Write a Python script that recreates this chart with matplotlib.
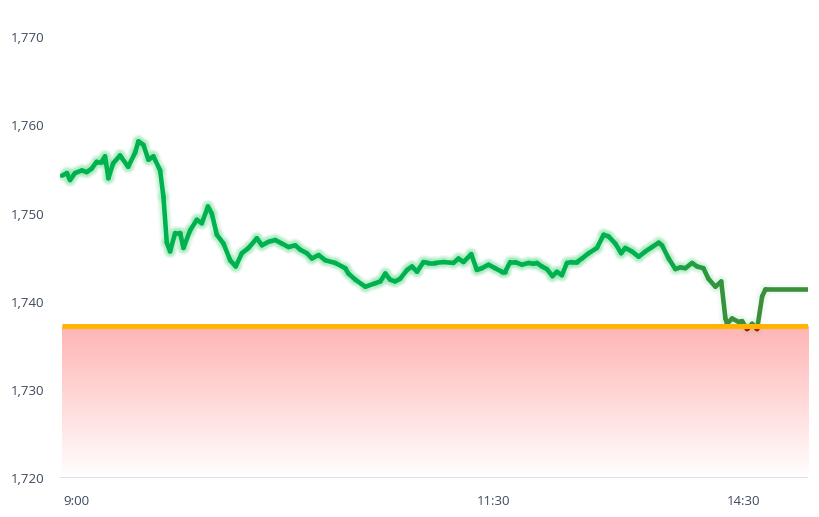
import numpy as np
import matplotlib
matplotlib.use('Agg')
from matplotlib import pyplot as plt
from matplotlib.collections import LineCollection
from matplotlib.colors import to_rgb
from matplotlib.patches import Rectangle

plt.rcParams['font.family'] = ['Open Sans', 'DejaVu Sans']

# trading minutes from 9:00 (lunch break removed) and index value
minutes = [-5.1, -3.3, -2.2, -0.4, 2.1, 3.8, 5.6, 7.4, 9.2, 10.4, 11.6, 13.3, 15.8, 18.7,
           21.2, 22.4, 24.2, 26.0, 27.8, 30.2, 31.4, 32.6, 33.8, 35.6, 37.4, 38.6, 41.0,
           43.4, 45.2, 47.4, 48.8, 50.6, 53.0, 55.4, 57.4, 59.6, 62.0, 65.0, 66.8, 69.2,
           71.6, 74.0, 76.4, 78.8, 80.6, 83.0, 84.8, 87.2, 89.6, 93.2, 96.8, 97.9, 100.4,
           104.0, 107.6, 109.4, 111.2, 112.9, 114.7, 116.5, 119.0, 120.8, 122.6, 124.9,
           126.7, 129.1, 132.1, 135.7, 137.5, 139.3, 142.1, 144.1, 145.9, 148.3, 150.7,
           153.1, 154.3, 156.1, 157.9, 160.3, 162.7, 164.5, 165.7, 167.5, 169.3, 171.3,
           172.9, 174.7, 176.5, 178.3, 180.1, 181.9, 184.3, 187.3, 189.7, 191.5, 193.9,
           196.0, 197.5, 199.9, 202.3, 204.7, 207.1, 209.5, 210.7, 213.1, 215.5, 217.3,
           219.1, 221.5, 223.3, 225.6, 227.4, 229.9, 232.0, 233.5, 234.1, 235.9, 238.3,
           239.5, 241.3, 243.1, 244.9, 246.7, 247.9, 262.8]
prices = [1754.3, 1754.6, 1753.8, 1754.6, 1754.9, 1754.7, 1755.1, 1755.9, 1755.9, 1756.5,
          1754.0, 1755.7, 1756.6, 1755.3, 1756.9, 1758.2, 1757.8, 1756.1, 1756.5, 1754.9,
          1751.9, 1746.7, 1745.7, 1747.8, 1747.8, 1746.1, 1748.1, 1749.3, 1748.9, 1750.8,
          1750.0, 1747.6, 1746.6, 1744.7, 1744.0, 1745.5, 1746.1, 1747.2, 1746.4, 1746.8,
          1747.0, 1746.6, 1746.2, 1746.4, 1745.9, 1745.5, 1744.9, 1745.3, 1744.7, 1744.4,
          1743.8, 1743.2, 1742.5, 1741.7, 1742.1, 1742.3, 1743.2, 1742.5, 1742.3, 1742.6,
          1743.6, 1744.0, 1743.4, 1744.5, 1744.4, 1744.4, 1744.5, 1744.4, 1744.9, 1744.5,
          1745.4, 1743.6, 1743.8, 1744.2, 1743.8, 1743.4, 1743.4, 1744.5, 1744.5, 1744.2,
          1744.4, 1744.3, 1744.4, 1744.0, 1743.7, 1742.9, 1743.4, 1743.0, 1744.4, 1744.5,
          1744.5, 1744.9, 1745.5, 1746.1, 1747.6, 1747.4, 1746.6, 1745.5, 1746.1, 1745.7,
          1745.1, 1745.7, 1746.2, 1746.7, 1746.4, 1744.9, 1743.7, 1743.9, 1743.8, 1744.4,
          1744.0, 1743.8, 1742.6, 1741.7, 1742.3, 1738.1, 1737.5, 1738.1, 1737.7, 1737.8,
          1736.9, 1737.5, 1736.9, 1740.6, 1741.4, 1741.4]
ref_price = 1737.2

x_ticks = [0, 150, 240]
x_labels = ['9:00', '11:30', '14:30']
y_ticks = [1720, 1730, 1740, 1750, 1760, 1770]

fig = plt.figure(figsize=(8.2, 5.17), dpi=100)
ax = fig.add_axes([60/820, 1 - 478/517, 748/820, (478 - 37.3)/517])
x_end = 263.2

# red gradient under the reference line
grad = np.linspace(0, 1, 256)[:, None, None]
top = np.array(to_rgb('#ffb4b4'))
img = top + (np.ones(3) - top) * grad
ax.imshow(img, extent=[minutes[0], x_end, 1720, ref_price], aspect='auto',
          origin='upper', zorder=1, interpolation='bilinear')

# line with a soft glow, colour shifting toward darker green at the close
x = np.array(minutes)
y = np.array(prices)
pts = np.column_stack([x, y])
segs = np.stack([pts[:-1], pts[1:]], axis=1)
mid = (x[:-1] + x[1:]) / 2
t = np.clip((mid - 205) / 30, 0, 1)[:, None]
cols = np.array(to_rgb('#00b14f')) * (1 - t) + np.array(to_rgb('#3c8e3a')) * t
glow = np.array(to_rgb('#8fe6ad'))
for lw, a in [(10, 0.10), (8, 0.15), (6.5, 0.22)]:
    gc = np.column_stack([np.tile(glow, (len(segs), 1)), a * (1 - 0.8 * t[:, 0])])
    ax.add_collection(LineCollection(segs, colors=gc, linewidths=lw,
                                     capstyle='round', joinstyle='round', zorder=2))
ax.add_collection(LineCollection(segs, colors=cols, linewidths=3.3,
                                 capstyle='round', joinstyle='round', zorder=3))

# red where the index dips below the reference
red, = ax.plot(x, y, color='#e00000', lw=3.3, zorder=4, solid_capstyle='round')
red.set_clip_path(Rectangle((minutes[0], 1700), x_end - minutes[0], ref_price - 1700,
                            transform=ax.transData))

ax.plot([minutes[0], x_end], [ref_price, ref_price], color='#ffb400', lw=3.6,
        zorder=5, solid_capstyle='butt')
ax.axhline(1720, color='#d6dae3', lw=1.2, zorder=6)

ax.set_xlim(-5.8, x_end)
ax.set_ylim(1720, 1770)
ax.set_xticks(x_ticks)
ax.set_xticklabels(x_labels)
ax.set_yticks(y_ticks)
ax.set_yticklabels([f'{v:,}' for v in y_ticks])
for s in ax.spines.values():
    s.set_visible(False)
ax.tick_params(axis='y', length=0, pad=11, labelsize=9.5, labelcolor='#3d4a5c')
ax.tick_params(axis='x', length=0, pad=12, labelsize=9.5, labelcolor='#3d4a5c')

fig.savefig('out.png', dpi=100)
